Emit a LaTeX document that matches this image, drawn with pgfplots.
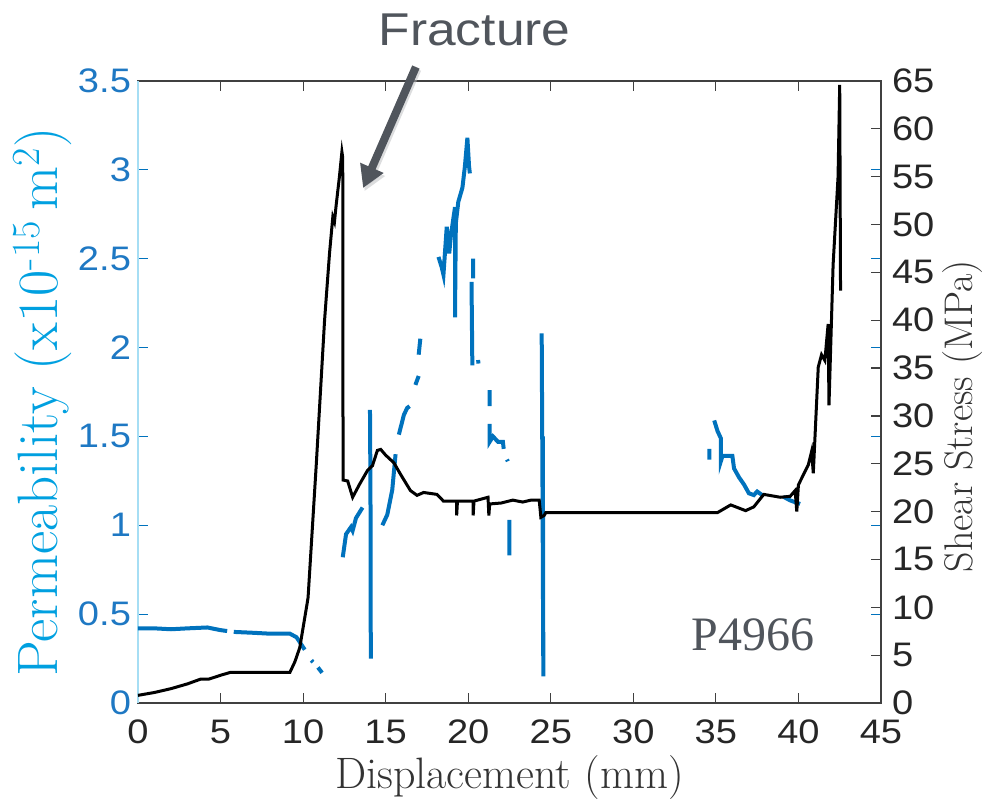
\documentclass[border=0pt]{standalone}
\usepackage{fontspec}
\setsansfont{Liberation Sans}
\newfontfamily\tickfont[FakeStretch=1.12]{Liberation Sans}
\newfontfamily\pfont{Liberation Serif}
\usepackage{pgfplots}
\pgfplotsset{compat=1.18}
\usetikzlibrary{arrows.meta}
\definecolor{mblue}{RGB}{0,114,189}
\definecolor{lblue}{RGB}{0,160,224}
\definecolor{tblue}{RGB}{30,120,195}
\definecolor{agray}{RGB}{80,85,92}
\definecolor{tkgray}{RGB}{38,38,38}
\begin{document}
\begin{tikzpicture}
\path[use as bounding box] (-69pt,-50.5pt) rectangle (422pt,351.5pt);
\begin{axis}[
  scale only axis, width=371.5pt, height=311pt,
  at={(0,0)}, anchor=south west,
  xmin=0, xmax=45, ymin=0, ymax=3.5,
  xtick={0,5,...,45}, ytick={0,0.5,...,3.5},
  xticklabel pos=left, yticklabel pos=left,
  tick align=inside, major tick length=5pt,
  axis line style={line width=0.6pt, color=black!75},
  y tick style={color=mblue, line width=0.6pt},
  x tick style={color=black!75, line width=0.6pt},
  /pgf/number format/assume math mode=true,
  x tick label style={font=\tickfont\fontsize{17}{17}\selectfont, color=tkgray, yshift=-5pt},
  y tick label style={font=\tickfont\fontsize{17}{17}\selectfont, color=tblue},
  xlabel={Displacement (mm)},
  xlabel style={at={(axis description cs:0.5,-0.12)}, anchor=center, font=\fontsize{22}{22}\selectfont, color=black!80},
  ylabel={Permeability (x10\textsuperscript{-15}\,m\textsuperscript{2})},
  ylabel style={at={(axis description cs:-0.128,0.484)}, anchor=center, rotate=0, font=\fontsize{28.5}{28.5}\selectfont, color=lblue},
  clip=false,
  unbounded coords=jump,
]
\draw[color=lblue!35, line width=0.8pt] (rel axis cs:0,0) -- (rel axis cs:0,1);
\addplot[mblue, line width=2pt] coordinates {
(0,0.42) (1,0.42) (2,0.415) (3,0.42) (4.2,0.425) (5.0,0.41) (5.4,0.405) (5.4,nan)
(5.8,0.40) (7,0.395) (8,0.39) (9.2,0.39) (9.6,0.37) (10.1,0.30) (10.1,nan)
(10.5,0.24) (10.6,0.23) (10.6,nan)
(10.9,0.20) (11.15,0.17) (11.15,nan)
(12.4,0.82) (12.6,0.95) (12.9,0.99) (13.0,0.97) (13.2,1.04) (13.6,1.10) (13.6,nan)
(14.05,1.65) (14.08,1.2) (14.1,0.25) (14.1,nan)
(14.8,1.0) (15.1,1.06) (15.4,1.2) (15.6,1.40) (15.6,nan)
(15.8,1.51) (16.1,1.62) (16.3,1.66) (16.45,1.67) (16.45,nan)
(16.8,1.79) (17.0,1.84) (17.0,nan)
(17.0,1.96) (17.1,2.05) (17.1,nan)
(18.2,2.51) (18.4,2.45) (18.5,2.41) (18.7,2.68) (18.85,2.53) (18.95,2.63) (19.2,2.79) (19.2,2.17) (19.25,2.7) (19.4,2.82) (19.65,2.90) (19.8,3.02) (19.95,3.18) (20.05,3.02) (20.1,2.98) (20.1,nan)
(20.3,2.5) (20.3,2.39) (20.3,nan)
(20.2,2.37) (20.25,1.9) (20.25,nan)
(20.6,1.93) (20.62,1.91) (20.62,nan)
(21.3,1.76) (21.3,1.67) (21.3,nan)
(21.3,1.57) (21.3,1.47) (21.5,1.5) (21.8,1.47) (22.1,1.47) (22.15,1.43) (22.15,nan)
(22.35,1.37) (22.4,1.36) (22.4,nan)
(22.5,1.03) (22.5,0.83) (22.5,nan)
(24.45,2.08) (24.5,1.2) (24.55,0.15) (24.52,1.5) (24.52,nan)
(34.6,1.43) (34.6,1.37) (34.6,nan)
(34.9,1.59) (35.1,1.53) (35.3,1.49) (35.3,1.36) (35.4,1.39) (36.0,1.39) (36.1,1.32) (36.4,1.27) (36.7,1.23) (37.0,1.18) (37.3,1.17) (37.5,1.19) (37.8,1.17) (37.8,nan)
(39.1,1.16) (39.5,1.14) (39.8,1.13) (40.1,1.12)
};
\node[font=\tickfont\fontsize{23}{23}\selectfont, color=agray] at (rel axis cs:0.453,1.082) {Fracture};
\draw[color=agray!40, line width=4pt, -{Triangle[length=11pt,width=12pt]}, opacity=0.5] (rel axis cs:0.376,1.019) -- (rel axis cs:0.305,0.823);
\draw[color=agray, line width=4pt, -{Triangle[length=11pt,width=12pt]}] (rel axis cs:0.374,1.0225) -- (rel axis cs:0.303,0.828);
\node[font=\pfont\fontsize{24}{24}\selectfont, color=agray] at (rel axis cs:0.828,0.109) {P4966};
\end{axis}
\begin{axis}[
  scale only axis, width=371.5pt, height=311pt,
  at={(0,0)}, anchor=south west,
  xmin=0, xmax=45, ymin=0, ymax=65,
  ytick={0,5,...,65},
  axis y line*=right, hide x axis,
  tick align=inside, major tick length=5pt,
  axis line style={line width=0.6pt, color=black!75},
  y tick style={color=black!75, line width=0.6pt},
  /pgf/number format/assume math mode=true,
  y tick label style={font=\tickfont\fontsize{17}{17}\selectfont, color=tkgray, xshift=2pt},
  ylabel={Shear Stress (MPa)},
  ylabel style={at={(axis description cs:1.11,0.461)}, anchor=center, rotate=0, font=\fontsize{20}{20}\selectfont, color=black!80},
  clip=false,
]
\addplot[black, line width=1.5pt] coordinates {
(0,0.8) (1,1.1) (2,1.5) (3,2.0) (3.8,2.5) (4.3,2.5) (5,2.9) (5.6,3.2) (7,3.2) (9.2,3.2) (9.5,4.3) (9.8,5.8) (10.3,11) (10.8,25) (11.3,40) (11.6,47) (11.8,50.8) (11.9,50.3) (12.0,52) (12.2,55) (12.35,57.6) (12.4,57) (12.42,23.3) (12.7,23.2) (13.0,21.5) (13.4,22.8) (13.9,24.3) (14.2,24.8) (14.5,26.4) (14.7,26.5) (15.0,25.9) (15.5,25.1) (15.9,23.9) (16.5,22.2) (16.9,21.7) (17.3,22.0) (18.1,21.8) (18.5,21.1) (19.3,21.1) (19.3,19.6) (19.35,21.1) (20.3,21.1) (20.3,19.6) (20.35,21.1) (21.2,21.5) (21.25,19.6) (21.3,20.8) (22.0,20.9) (22.7,21.2) (23.3,21.0) (23.8,21.2) (24.3,21.2) (24.4,19.4) (24.6,19.6) (24.7,19.9) (35.1,19.9) (35.9,20.7) (36.2,20.5) (36.8,20.1) (37.3,20.5) (37.9,21.8) (38.9,21.5) (39.5,21.6) (39.8,22.2) (39.9,20.0) (40.0,22.8) (40.6,24.9) (40.8,26.3) (40.9,24) (41.2,35.1) (41.4,36.4) (41.6,35.8) (41.8,39.6) (41.85,31.1) (42.1,45.8) (42.4,55) (42.5,64.6) (42.55,43.1)
};
\end{axis}
\end{tikzpicture}
\end{document}
